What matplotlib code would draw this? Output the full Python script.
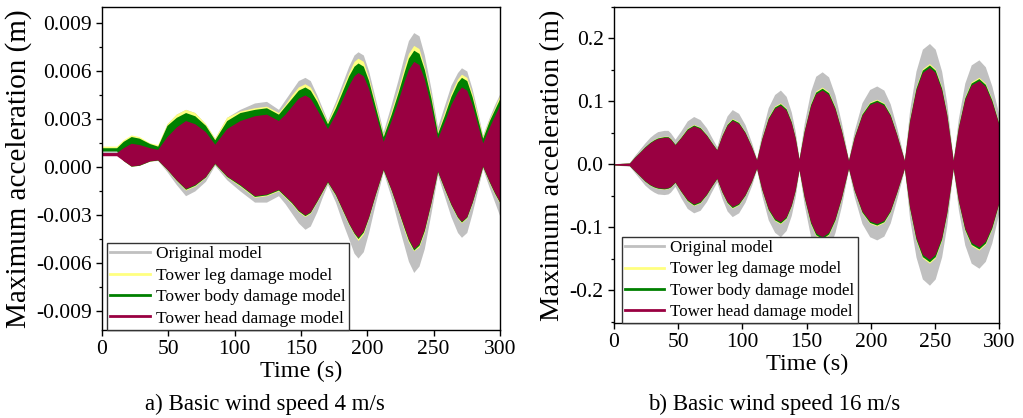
import matplotlib
matplotlib.use("Agg")
import matplotlib.pyplot as plt
from matplotlib.lines import Line2D
from matplotlib.ticker import MultipleLocator, FormatStrFormatter

plt.rcParams['font.family'] = ['Liberation Serif', 'DejaVu Serif']
plt.rcParams['axes.unicode_minus'] = False

# ---------------- Panel a: basic wind speed 4 m/s (response envelopes) ----------------
t_a = [0, 11, 16, 22, 28, 36, 42, 49, 56, 63, 70, 78, 85, 94, 104, 115, 124, 133, 138, 143,
       148, 153, 157, 162, 166, 170, 176, 181, 186, 190, 193, 197, 201, 206, 212, 218, 223, 228,
       231, 235, 239, 243, 248, 253, 258, 263, 268, 271, 275, 279, 283, 287, 292, 296, 300]

orig_up_a = [0.0011, 0.0011, 0.0016, 0.0019, 0.0018, 0.0015, 0.0013, 0.0027, 0.0033, 0.0036,
             0.0034, 0.0027, 0.0018, 0.0031, 0.0036, 0.0040, 0.0041, 0.0036, 0.0042, 0.0048,
             0.0054, 0.0056, 0.0054, 0.0045, 0.0037, 0.0029, 0.0041, 0.0052, 0.0063, 0.0070,
             0.0072, 0.0070, 0.0060, 0.0043, 0.0022, 0.0039, 0.0054, 0.0070, 0.0079, 0.0084,
             0.0082, 0.0070, 0.0049, 0.0025, 0.0038, 0.0051, 0.0059, 0.0062, 0.0060, 0.0049,
             0.0035, 0.0020, 0.0031, 0.0039, 0.0046]
orig_lo_a = [0.0009, 0.0009, 0.0004, 0.00004, 0.0001, 0.00036, 0.0004, -0.0003, -0.0011, -0.0018,
             -0.0015, -0.0009, 0.0001, -0.0008, -0.0015, -0.0022, -0.0022, -0.0018, -0.0023, -0.0029,
             -0.0035, -0.0039, -0.0037, -0.0028, -0.0019, -0.0011, -0.0022, -0.0034, -0.0045, -0.0054,
             -0.0057, -0.0053, -0.0041, -0.0023, -0.0003, -0.0019, -0.0035, -0.0050, -0.0059, -0.0066,
             -0.0062, -0.0051, -0.0029, -0.0005, -0.0018, -0.0031, -0.0041, -0.0044, -0.0041, -0.0029,
             -0.0015, -0.0001, -0.0013, -0.0022, -0.0031]

leg_up_a = [0.0013, 0.0013, 0.0017, 0.0020, 0.0019, 0.0015, 0.0014, 0.0027, 0.0033, 0.0036,
            0.0034, 0.0027, 0.0018, 0.0031, 0.0035, 0.0037, 0.0038, 0.0034, 0.0039, 0.0045,
            0.0050, 0.0052, 0.0050, 0.0043, 0.0035, 0.0028, 0.0039, 0.0049, 0.0059, 0.0066,
            0.0068, 0.0066, 0.0056, 0.0040, 0.0020, 0.0035, 0.0048, 0.0063, 0.0071, 0.0076,
            0.0074, 0.0063, 0.0045, 0.0022, 0.0034, 0.0046, 0.0055, 0.0058, 0.0056, 0.0046,
            0.0033, 0.0019, 0.0030, 0.0037, 0.0045]
leg_lo_a = [0.0011, 0.0011, 0.0004, 0.00004, 0.0001, 0.00036, 0.00042, -0.00018, -0.00086, -0.00145,
            -0.0012, -0.00066, 0.00018, -0.00063, -0.0012, -0.0019, -0.0018, -0.0015, -0.0019, -0.0023,
            -0.0028, -0.0031, -0.0029, -0.0022, -0.0016, -0.00098, -0.0018, -0.0027, -0.0036, -0.0042,
            -0.0046, -0.0042, -0.0032, -0.0018, -0.0002, -0.0015, -0.0027, -0.0040, -0.0047, -0.00525,
            -0.0050, -0.0041, -0.0023, -0.00032, -0.0014, -0.0024, -0.0032, -0.0035, -0.0032, -0.0023,
            -0.0012, 0.0, -0.0010, -0.0017, -0.0023]

body_up_a = [0.0012, 0.0012, 0.0016, 0.0019, 0.0018, 0.00146, 0.0013, 0.0026, 0.0031, 0.0034,
             0.0032, 0.0026, 0.0017, 0.0029, 0.0034, 0.0036, 0.0037, 0.0033, 0.0038, 0.0043,
             0.0048, 0.0050, 0.0048, 0.0041, 0.0034, 0.0027, 0.0037, 0.0047, 0.0057, 0.0063,
             0.0065, 0.0063, 0.0054, 0.0038, 0.0019, 0.0033, 0.0046, 0.0060, 0.0068, 0.0073,
             0.0071, 0.0061, 0.0043, 0.0021, 0.0032, 0.0044, 0.0053, 0.0056, 0.0054, 0.0044,
             0.0031, 0.0018, 0.0029, 0.0036, 0.0043]
body_lo_a = [0.0010, 0.0010, 0.0004, 0.00005, 0.0001, 0.00037, 0.00043, -0.00016, -0.00083, -0.0014,
             -0.00115, -0.00063, 0.0002, -0.0006, -0.00115, -0.00185, -0.00175, -0.00145, -0.00185, -0.00225,
             -0.00275, -0.00305, -0.00285, -0.00215, -0.00155, -0.00095, -0.00175, -0.00265, -0.00355, -0.00415,
             -0.00448, -0.00408, -0.00315, -0.00175, -0.00018, -0.00145, -0.00265, -0.00388, -0.00458, -0.0052,
             -0.0049, -0.00398, -0.00225, -0.0003, -0.00135, -0.00235, -0.00315, -0.00345, -0.00315, -0.00225,
             -0.00115, 0.00002, -0.00095, -0.00165, -0.00225]

head_up_a = [0.0009, 0.0009, 0.0012, 0.00148, 0.0014, 0.0012, 0.0011, 0.0019, 0.0025, 0.0029,
             0.0027, 0.0022, 0.00142, 0.0024, 0.0029, 0.0032, 0.0033, 0.0029, 0.0033, 0.0038,
             0.0043, 0.0045, 0.0043, 0.0036, 0.0030, 0.0024, 0.0033, 0.0042, 0.0051, 0.0057,
             0.0059, 0.0057, 0.0049, 0.0034, 0.0016, 0.0029, 0.0041, 0.0054, 0.0061, 0.0066,
             0.0064, 0.0055, 0.0038, 0.0018, 0.0028, 0.0039, 0.0047, 0.0050, 0.0048, 0.0039,
             0.0027, 0.0015, 0.0025, 0.0032, 0.0039]
head_lo_a = [0.0007, 0.0007, 0.0004, 0.00006, 0.00012, 0.00038, 0.00044, -0.00014, -0.0008, -0.00135,
             -0.0011, -0.0006, 0.00023, -0.00056, -0.0011, -0.0018, -0.0017, -0.0014, -0.0018, -0.0022,
             -0.0027, -0.0030, -0.0028, -0.0021, -0.0015, -0.0009, -0.0017, -0.0026, -0.0035, -0.0041,
             -0.0044, -0.0040, -0.0031, -0.0017, -0.00014, -0.0014, -0.0026, -0.0038, -0.0045, -0.0051,
             -0.0048, -0.0039, -0.0022, -0.00025, -0.0013, -0.0023, -0.0031, -0.0034, -0.0031, -0.0022,
             -0.0011, 0.00006, -0.0009, -0.0016, -0.0022]

# ---------------- Panel b: basic wind speed 16 m/s ----------------
t_b = [0, 12, 16, 20, 24, 28, 31, 34, 39, 42, 44, 47.5, 52, 57, 62, 67, 72, 76, 80, 84,
       88, 92, 97, 102, 107, 111, 115, 120, 125, 129.5, 134, 138, 141, 144, 148, 153, 157, 162,
       167, 172, 177, 182.5, 187, 193, 199, 204.5, 210, 215, 220, 226, 230, 235, 240, 245.5,
       250, 255, 259, 264, 268, 273, 278, 284, 289, 294, 300]

orig_up_b = [0.001, 0.003, 0.014, 0.024, 0.034, 0.043, 0.048, 0.052, 0.054, 0.054, 0.050, 0.040,
             0.053, 0.069, 0.076, 0.071, 0.058, 0.043, 0.028, 0.056, 0.077, 0.087, 0.081, 0.063,
             0.035, 0.009, 0.050, 0.090, 0.111, 0.118, 0.108, 0.083, 0.053, 0.010, 0.065, 0.116,
             0.140, 0.147, 0.139, 0.110, 0.066, 0.008, 0.054, 0.098, 0.119, 0.1245, 0.118, 0.096,
             0.059, 0.008, 0.085, 0.148, 0.183, 0.192, 0.183, 0.148, 0.098, 0.008, 0.073, 0.129,
             0.158, 0.166, 0.155, 0.125, 0.076]
orig_lo_b = [-0.001, -0.003, -0.013, -0.023, -0.033, -0.040, -0.044, -0.047, -0.048, -0.047, -0.044, -0.035,
             -0.053, -0.070, -0.077, -0.073, -0.059, -0.043, -0.028, -0.054, -0.074, -0.083, -0.077, -0.060,
             -0.034, -0.008, -0.049, -0.088, -0.108, -0.115, -0.105, -0.081, -0.052, -0.010, -0.064, -0.115,
             -0.137, -0.145, -0.136, -0.108, -0.066, -0.008, -0.052, -0.094, -0.115, -0.120, -0.114, -0.093,
             -0.056, -0.008, -0.085, -0.147, -0.182, -0.192, -0.182, -0.147, -0.097, -0.008, -0.072, -0.128,
             -0.157, -0.165, -0.154, -0.125, -0.073]

leg_up_b = [0.001, 0.002, 0.0114, 0.0198, 0.0281, 0.0354, 0.0395, 0.0426, 0.0447, 0.0447, 0.0416, 0.0322,
            0.0437, 0.0572, 0.0634, 0.0593, 0.0478, 0.0354, 0.0239, 0.0468, 0.0645, 0.0728, 0.0676, 0.052,
            0.0291, 0.007, 0.0416, 0.0749, 0.0926, 0.0978, 0.0894, 0.0686, 0.0437, 0.008, 0.0541, 0.0967,
            0.1165, 0.1227, 0.1154, 0.0915, 0.0551, 0.006, 0.0447, 0.0811, 0.0988, 0.1035, 0.0978, 0.0801,
            0.0489, 0.006, 0.0707, 0.1227, 0.1518, 0.1602, 0.1518, 0.1227, 0.0811, 0.006, 0.0603, 0.1071,
            0.131, 0.1383, 0.129, 0.104, 0.0624]
leg_lo_b = [-0.001, -0.002, -0.0104, -0.0187, -0.027, -0.0333, -0.0364, -0.0385, -0.0395, -0.0385, -0.0364, -0.0291,
            -0.0437, -0.0582, -0.0655, -0.0614, -0.0489, -0.0354, -0.0229, -0.0447, -0.0614, -0.0697, -0.0645, -0.0499,
            -0.0281, -0.006, -0.0406, -0.0728, -0.0894, -0.0946, -0.0863, -0.0666, -0.0426, -0.008, -0.053, -0.0946,
            -0.1134, -0.1196, -0.1123, -0.0894, -0.0541, -0.006, -0.0426, -0.077, -0.0936, -0.0978, -0.0926, -0.0759,
            -0.0458, -0.006, -0.0697, -0.1206, -0.1487, -0.157, -0.1487, -0.1206, -0.079, -0.006, -0.0593, -0.105,
            -0.129, -0.1362, -0.1269, -0.103, -0.0593]

body_up_b = [0.001, 0.002, 0.0115, 0.0195, 0.028, 0.035, 0.039, 0.042, 0.044, 0.044, 0.041, 0.032,
             0.043, 0.0565, 0.0625, 0.0585, 0.047, 0.035, 0.0235, 0.046, 0.0635, 0.0718, 0.0666, 0.0513,
             0.0287, 0.007, 0.041, 0.0738, 0.0912, 0.0964, 0.0882, 0.0677, 0.043, 0.008, 0.0533, 0.0953,
             0.1148, 0.121, 0.1138, 0.0902, 0.0543, 0.006, 0.0441, 0.080, 0.0974, 0.102, 0.0964, 0.079,
             0.0482, 0.006, 0.0697, 0.121, 0.1497, 0.1579, 0.1497, 0.121, 0.080, 0.006, 0.0595, 0.1056,
             0.1292, 0.1363, 0.1271, 0.1025, 0.0615]
body_lo_b = [-0.001, -0.002, -0.0103, -0.0185, -0.0267, -0.0328, -0.0359, -0.0379, -0.039, -0.0379, -0.0359, -0.0287,
             -0.043, -0.0574, -0.0646, -0.0605, -0.0482, -0.0349, -0.0226, -0.0441, -0.0605, -0.0687, -0.0636, -0.0492,
             -0.0277, -0.006, -0.040, -0.0718, -0.0882, -0.0933, -0.0851, -0.0656, -0.042, -0.008, -0.0523, -0.0933,
             -0.1117, -0.1179, -0.1107, -0.0882, -0.0533, -0.006, -0.042, -0.0759, -0.0923, -0.0964, -0.0912, -0.0748,
             -0.0451, -0.006, -0.0687, -0.1189, -0.1466, -0.1548, -0.1466, -0.1189, -0.0779, -0.006, -0.0584, -0.1035,
             -0.1271, -0.1343, -0.1251, -0.1015, -0.0584]

head_up_b = [0.001, 0.002, 0.011, 0.019, 0.027, 0.034, 0.038, 0.041, 0.043, 0.043, 0.040, 0.031,
             0.042, 0.055, 0.061, 0.057, 0.046, 0.034, 0.023, 0.045, 0.062, 0.070, 0.065, 0.050,
             0.028, 0.007, 0.040, 0.072, 0.089, 0.094, 0.086, 0.066, 0.042, 0.008, 0.052, 0.093,
             0.112, 0.118, 0.111, 0.088, 0.053, 0.006, 0.043, 0.078, 0.095, 0.0995, 0.094, 0.077,
             0.047, 0.006, 0.068, 0.118, 0.146, 0.154, 0.146, 0.118, 0.078, 0.006, 0.058, 0.103,
             0.126, 0.133, 0.124, 0.100, 0.060]
head_lo_b = [-0.001, -0.002, -0.010, -0.018, -0.026, -0.032, -0.035, -0.037, -0.038, -0.037, -0.035, -0.028,
             -0.042, -0.056, -0.063, -0.059, -0.047, -0.034, -0.022, -0.043, -0.059, -0.067, -0.062, -0.048,
             -0.027, -0.006, -0.039, -0.070, -0.086, -0.091, -0.083, -0.064, -0.041, -0.008, -0.051, -0.091,
             -0.109, -0.115, -0.108, -0.086, -0.052, -0.006, -0.041, -0.074, -0.090, -0.094, -0.089, -0.073,
             -0.044, -0.006, -0.067, -0.116, -0.143, -0.151, -0.143, -0.116, -0.076, -0.006, -0.057, -0.101,
             -0.124, -0.131, -0.122, -0.099, -0.057]

labels = ['Original model', 'Tower leg damage model',
          'Tower body damage model', 'Tower head damage model']
colors = ['#c0c0c0', '#ffff80', '#008000', '#990041']
x_ticks = [0, 50, 100, 150, 200, 250, 300]

fig = plt.figure(figsize=(10.23, 4.18), dpi=100)
ax_a = fig.add_axes([0.0997, 0.2105, 0.389, 0.7727])
ax_b = fig.add_axes([0.6002, 0.2273, 0.3768, 0.756])


def draw_panel(ax, t, bands, ylim, major, minor, fmt, ylabel_size,
               leg_x, leg_size, caption, cap_x):
    for (lo, up), c in zip(bands, colors):
        ax.fill_between(t, lo, up, color=c, lw=0, zorder=2)
    ax.set_xlim(0, 300)
    ax.set_ylim(*ylim)
    ax.set_xticks(x_ticks)
    ax.yaxis.set_major_locator(MultipleLocator(major))
    ax.yaxis.set_minor_locator(MultipleLocator(minor))
    ax.yaxis.set_major_formatter(FormatStrFormatter(fmt))
    ax.tick_params(axis='both', which='major', direction='out', length=4.5,
                   width=1, labelsize=15.5, pad=3)
    ax.tick_params(axis='y', which='minor', direction='out', length=2.5, width=0.9)
    for s in ax.spines.values():
        s.set_linewidth(1.0)
    ax.set_xlabel('Time (s)', fontsize=17.5, labelpad=1)
    ax.set_ylabel('Maximum acceleration (m)', fontsize=ylabel_size, labelpad=3)
    handles = [Line2D([], [], color=c, lw=2) for c in colors]
    leg = ax.legend(handles, labels, loc='lower left', bbox_to_anchor=(leg_x, 0.0),
                    fontsize=leg_size, frameon=True, fancybox=False, framealpha=1.0,
                    borderaxespad=0.0, handlelength=2.3, handletextpad=0.35,
                    labelspacing=0.3, borderpad=0.2)
    leg.get_frame().set_edgecolor('#333333')
    leg.get_frame().set_linewidth(1.0)
    leg.set_zorder(5)
    fig.text(cap_x, 0.033, caption, ha='center', va='center', fontsize=16.5)


draw_panel(ax_a, t_a,
           [(orig_lo_a, orig_up_a), (leg_lo_a, leg_up_a),
            (body_lo_a, body_up_a), (head_lo_a, head_up_a)],
           (-0.0102, 0.0100), 0.003, 0.0015, '%.3f', 21, 0.012, 12.5,
           'a) Basic wind speed 4 m/s', 0.259)
draw_panel(ax_b, t_b,
           [(orig_lo_b, orig_up_b), (leg_lo_b, leg_up_b),
            (body_lo_b, body_up_b), (head_lo_b, head_up_b)],
           (-0.252, 0.25), 0.1, 0.05, '%.1f', 20.5, 0.02, 12.2,
           'b) Basic wind speed 16 m/s', 0.757)

fig.savefig('out.png', dpi=100)
